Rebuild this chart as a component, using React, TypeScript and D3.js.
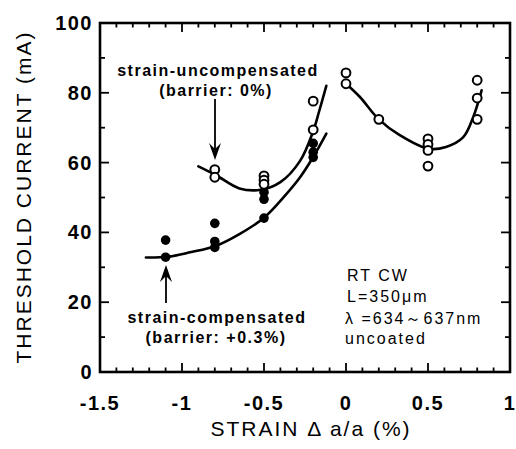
import React from "react";
import * as d3 from "d3";

// Strain-uncompensated wells (open circles), negative strain side
const uncompX = [-0.8, -0.8, -0.5, -0.5, -0.5, -0.2, -0.2];
const uncompY = [58.0, 55.8, 56.2, 55.0, 53.8, 77.6, 69.4];

// Strain-compensated wells (filled circles)
const compX = [-1.1, -1.1, -0.8, -0.8, -0.8, -0.5, -0.5, -0.5, -0.2, -0.2, -0.2];
const compY = [37.8, 32.9, 42.6, 37.4, 35.7, 51.5, 49.5, 44.1, 65.5, 63.0, 61.5];

// Tensile-strain side (open circles)
const tensileX = [0, 0, 0.2, 0.5, 0.5, 0.5, 0.5, 0.8, 0.8, 0.8];
const tensileY = [85.7, 82.6, 72.4, 66.8, 65.2, 63.5, 59.0, 83.6, 78.5, 72.4];

// Guide-line knots for the drawn trend curves
const uncompCurveX = [-0.9, -0.79, -0.65, -0.52, -0.4, -0.28, -0.2, -0.165, -0.12];
const uncompCurveY = [58.9, 56.3, 52.6, 52.2, 54.4, 60.5, 69.0, 74.5, 82.0];
const compCurveX = [-1.22, -1.09, -0.95, -0.79, -0.65, -0.5, -0.38, -0.28, -0.2, -0.12];
const compCurveY = [32.8, 33.0, 34.3, 36.2, 39.5, 44.2, 50.1, 55.8, 61.6, 68.3];
const tensileCurveX = [0, 0.085, 0.2, 0.33, 0.5, 0.61, 0.715, 0.776, 0.827];
const tensileCurveY = [82.6, 78.8, 72.4, 67.8, 64.0, 64.5, 67.3, 73.1, 80.7];

const xTickLabels = ["-1.5", "-1", "-0.5", "0", "0.5", "1"];
const yTickLabels = ["0", "20", "40", "60", "80", "100"];

const W = 516;
const H = 449;
const FONT = "'Liberation Sans', Arial, Helvetica, sans-serif";

export default function App() {
  const x = d3.scaleLinear().domain([-1.5, 1]).range([100, 510]);
  const y = d3.scaleLinear().domain([0, 100]).range([372, 23]);

  const line = d3
    .line<[number, number]>()
    .x((d) => x(d[0]))
    .y((d) => y(d[1]))
    .curve(d3.curveCatmullRom.alpha(0.5));

  const zip = (a: number[], b: number[]) => a.map((v, i) => [v, b[i]] as [number, number]);

  const xMinor = d3.range(0, 26).map((i) => -1.5 + i * 0.1);
  const yMinor = d3.range(0, 11).map((i) => i * 10);
  const isMajorX = (v: number) => Math.abs(v * 2 - Math.round(v * 2)) < 1e-6;
  const isMajorY = (v: number) => Math.round(v) % 20 === 0;

  const [x0, x1] = x.range();
  const [y0, y1] = y.range();

  const arrowDown = (cx: number, tip: number) =>
    `M${cx},${tip} L${cx - 6},${tip - 17} L${cx},${tip - 11} L${cx + 6},${tip - 17} Z`;
  const arrowUp = (cx: number, tip: number) =>
    `M${cx},${tip} L${cx - 6},${tip + 17} L${cx},${tip + 11} L${cx + 6},${tip + 17} Z`;

  return (
    <svg
      width={W}
      height={H}
      style={{ position: "absolute", left: 0, top: 0, background: "#fff" }}
      fontFamily={FONT}
    >
      <rect width={W} height={H} fill="#fff" />

      {/* frame */}
      <rect x={x0} y={y1} width={x1 - x0} height={y0 - y1} fill="none" stroke="#000" strokeWidth={2.6} />

      {/* ticks, inward on all four sides */}
      {xMinor.map((v, i) => {
        const len = isMajorX(v) ? 9 : 4.5;
        return (
          <g key={`xt${i}`} stroke="#000" strokeWidth={1.8}>
            <line x1={x(v)} x2={x(v)} y1={y0} y2={y0 - len} />
            <line x1={x(v)} x2={x(v)} y1={y1} y2={y1 + len} />
          </g>
        );
      })}
      {yMinor.map((v, i) => {
        const len = isMajorY(v) ? 9 : 5;
        return (
          <g key={`yt${i}`} stroke="#000" strokeWidth={1.8}>
            <line x1={x0} x2={x0 + len} y1={y(v)} y2={y(v)} />
            <line x1={x1} x2={x1 - len} y1={y(v)} y2={y(v)} />
          </g>
        );
      })}

      {/* tick labels */}
      {xTickLabels.map((t) => (
        <text
          key={`xl${t}`}
          x={x(+t)}
          y={403}
          textAnchor="middle"
          dominantBaseline="central"
          fontSize={20}
          fontWeight="bold"
          letterSpacing={1.5}
        >
          {t}
        </text>
      ))}
      {yTickLabels.map((t) => (
        <text
          key={`yl${t}`}
          x={93}
          y={y(+t)}
          textAnchor="end"
          dominantBaseline="central"
          fontSize={20}
          fontWeight="bold"
          letterSpacing={1.5}
        >
          {t}
        </text>
      ))}

      {/* axis titles */}
      <text x={311} y={428} textAnchor="middle" dominantBaseline="central" fontSize={21} letterSpacing={2}>
        STRAIN Δ a/a (%)
      </text>
      <text
        transform={`translate(23,197) rotate(-90)`}
        textAnchor="middle"
        dominantBaseline="central"
        fontSize={21}
        letterSpacing={2}
      >
        THRESHOLD CURRENT (mA)
      </text>

      {/* trend curves */}
      <g fill="none" stroke="#000" strokeWidth={2.6} strokeLinecap="round">
        <path d={line(zip(uncompCurveX, uncompCurveY)) ?? ""} />
        <path d={line(zip(compCurveX, compCurveY)) ?? ""} />
        <path d={line(zip(tensileCurveX, tensileCurveY)) ?? ""} />
      </g>

      {/* data markers */}
      {compX.map((v, i) => (
        <circle key={`c${i}`} cx={x(v)} cy={y(compY[i])} r={4.8} fill="#000" />
      ))}
      {uncompX.map((v, i) => (
        <circle key={`u${i}`} cx={x(v)} cy={y(uncompY[i])} r={4.4} fill="#fff" stroke="#000" strokeWidth={2} />
      ))}
      {tensileX.map((v, i) => (
        <circle key={`t${i}`} cx={x(v)} cy={y(tensileY[i])} r={4.4} fill="#fff" stroke="#000" strokeWidth={2} />
      ))}

      {/* annotations */}
      <g fontSize={16} fontWeight="bold" letterSpacing={1.5} textAnchor="middle" dominantBaseline="central">
        <text x={218} y={70}>strain-uncompensated</text>
        <text x={216} y={90}>(barrier: 0%)</text>
        <text x={217} y={317}>strain-compensated</text>
        <text x={216} y={337}>(barrier: +0.3%)</text>
      </g>
      <line x1={215} y1={99} x2={215} y2={150} stroke="#000" strokeWidth={1.8} />
      <path d={arrowDown(215, 160)} fill="#000" />
      <line x1={166} y1={275} x2={166} y2={303} stroke="#000" strokeWidth={1.8} />
      <path d={arrowUp(166, 265)} fill="#000" />

      <g fontSize={16} letterSpacing={2} dominantBaseline="central">
        <text x={347} y={275}>RT CW</text>
        <text x={347} y={296}>L=350μm</text>
        <text x={345} y={318}>λ =634～637nm</text>
        <text x={345} y={338}>uncoated</text>
      </g>
    </svg>
  );
}
